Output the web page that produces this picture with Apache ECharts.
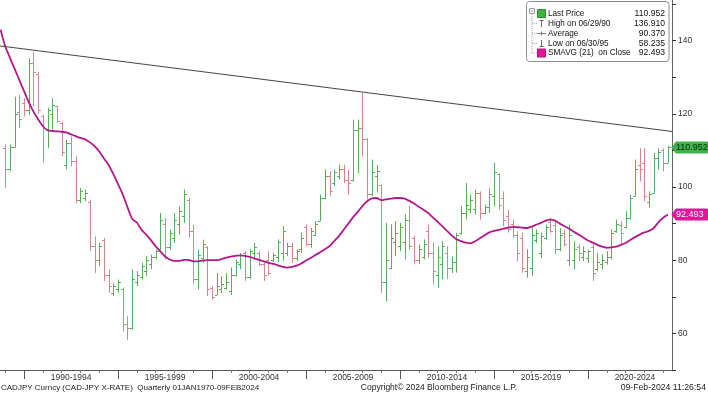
<!DOCTYPE html>
<html><head><meta charset="utf-8">
<script src="https://cdn.jsdelivr.net/npm/echarts@6/dist/echarts.min.js"></script>
<style>html,body{margin:0;padding:0;background:#fff}#c{width:708px;height:394px}</style>
</head><body><div id="c"></div><script>
// ---------- DATA ----------
// Quarterly OHLC bars, CADJPY, plotted at the quarter-end date; first bar = 1988 Q4
const firstQuarterEnd = 1989.0;
const openP = [110.7,104.8,111.0,120.5,123.0,121.0,134.0,131.0,119.5,115.5,120.0,122.0,117.5,106.0,112.0,107.0,96.5,97.0,96.0,84.0,
80.0,85.5,76.0,71.0,72.0,72.0,62.5,61.5,74.0,75.5,77.0,79.0,81.0,83.0,90.0,83.5,86.0,90.0,92.0,96.5,
88.0,75.0,80.5,83.5,72.5,70.5,72.0,72.5,71.5,76.0,79.0,82.0,75.5,82.0,82.0,79.0,80.0,80.0,81.0,82.0,
82.0,84.0,80.5,83.0,89.0,84.5,87.0,90.7,97.0,103.0,101.0,103.0,105.0,102.0,102.0,115.5,116.0,113.0,98.0,103.0,
100.5,74.0,78.0,85.0,84.0,85.0,91.0,86.0,80.0,81.0,88.0,82.0,76.0,79.0,82.0,78.0,79.5,87.5,93.0,94.0,
94.0,98.5,93.0,94.5,97.5,103.5,97.0,92.0,90.0,87.0,86.0,77.0,78.0,85.5,82.0,86.0,90.5,89.5,83.0,87.5,
80.0,80.0,83.5,81.0,80.5,83.5,77.5,79.0,79.5,81.0,88.0,89.5,89.0,91.5,97.5,106.0,106.5,96.0,98.5,108.0,
110.0,106.6];
const highP = [111.6,111.6,124.7,125.2,124.3,135.2,136.91,131.5,119.7,121.6,124.3,122.2,117.9,112.9,113.8,108.4,99.7,99.3,96.5,86.5,
84.7,86.1,77.5,73.8,74.7,72.5,64.7,77.5,77.0,79.3,81.1,81.5,82.9,92.9,91.5,88.4,92.9,94.7,99.3,97.0,
89.7,82.9,85.6,83.8,72.9,76.5,75.6,76.5,78.0,80.2,82.0,82.5,83.0,84.8,82.5,79.8,82.5,82.0,85.7,89.3,
84.8,84.8,83.0,87.5,89.8,88.8,90.7,97.9,104.8,104.3,104.8,106.1,106.1,104.8,118.4,118.4,125.7,113.4,107.5,106.0,
100.7,90.2,89.8,90.7,90.2,92.5,94.8,86.6,84.3,85.7,89.8,84.8,83.8,85.2,83.8,81.0,87.5,94.7,101.1,97.9,
99.3,98.8,95.2,99.7,106.6,103.8,98.8,93.8,91.1,87.9,87.5,83.0,89.3,88.4,87.5,89.7,91.6,90.6,88.8,88.4,
89.7,85.2,84.3,83.8,82.9,84.3,82.0,81.6,82.5,88.4,91.1,90.6,93.4,97.9,107.5,110.6,110.6,98.8,109.3,110.6,
110.6,111.3];
const lowP = [99.7,104.3,110.8,116.1,119.3,119.7,122.0,120.0,106.6,110.6,115.7,117.5,108.4,104.8,105.7,95.6,95.6,96.1,82.5,76.5,
78.4,74.3,71.1,70.2,71.1,60.5,58.235,61.0,72.9,74.7,75.6,77.5,80.2,82.9,80.2,82.9,84.7,87.0,90.2,86.1,
73.4,72.0,79.3,70.2,69.3,70.5,71.1,72.0,70.5,75.5,77.5,74.3,74.8,80.2,78.4,74.3,75.7,79.5,79.5,79.8,
81.1,79.3,79.8,82.0,83.8,83.4,86.6,90.7,96.6,97.5,100.2,102.0,101.1,97.9,101.5,103.8,108.4,96.6,97.5,98.5,
71.1,68.8,77.5,81.1,82.5,80.2,82.9,78.9,78.9,80.2,80.7,73.4,72.5,74.8,74.8,76.5,76.6,87.0,91.1,92.9,
92.5,91.1,92.5,92.9,94.7,93.8,89.3,87.5,86.1,79.7,76.6,75.2,75.7,84.7,80.6,85.6,87.5,81.6,82.5,83.8,
78.4,77.5,79.7,79.7,79.3,74.3,77.0,77.5,78.8,80.2,87.5,84.7,88.8,91.1,97.5,101.6,96.1,94.3,98.4,104.7,
104.3,106.6];
const closeP = [104.8,111.0,120.0,118.5,121.0,134.0,131.5,121.0,116.0,121.0,122.5,118.0,109.5,112.0,107.0,96.5,99.0,98.5,84.0,80.0,
84.0,76.0,73.0,73.0,74.0,62.5,61.5,75.0,76.0,78.5,80.0,81.0,82.5,91.0,83.5,87.5,91.0,93.5,98.0,88.0,
75.0,81.5,84.5,72.0,70.0,73.0,73.5,74.0,76.0,79.5,81.5,75.5,82.5,83.5,79.0,76.0,76.5,81.5,85.0,88.0,
84.0,80.5,82.5,86.0,84.5,88.0,90.0,97.0,103.0,99.0,104.0,105.0,102.0,101.0,115.5,116.0,113.0,98.0,104.0,104.5,
74.0,80.0,86.0,87.5,89.0,91.0,84.0,80.0,83.0,84.5,82.0,77.0,81.0,84.0,78.0,79.5,87.0,93.0,95.0,96.5,
98.5,93.0,94.5,98.0,104.0,95.0,91.0,88.5,87.0,82.0,78.0,81.0,87.0,87.5,86.5,89.0,88.0,83.0,87.0,84.5,
87.0,83.0,82.0,82.5,82.5,76.5,79.5,80.0,81.0,87.5,90.0,87.5,91.5,97.0,105.0,105.0,97.5,98.0,108.0,109.5,
106.5,110.952];
// SMAVG(21) on close, one value per quarter starting one quarter before the first bar
const smaStartOffset = -1;
const smaVals = [143.0,138.4,135.3,132.3,129.2,126.2,123.2,120.6,118.5,116.6,115.5,115.3,115.2,115.1,114.9,114.4,113.9,113.4,113.0,112.2,
111.2,109.7,107.8,106.0,103.5,100.8,98.0,94.5,91.3,90.3,88.3,87.0,85.5,83.8,82.4,81.0,80.2,79.8,79.8,80.1,
80.1,79.7,79.7,79.9,80.0,80.0,80.0,80.3,80.7,81.0,81.2,81.3,81.2,80.9,80.5,80.1,79.7,79.3,79.0,78.6,
78.2,78.0,78.2,78.5,79.1,79.9,80.6,81.4,82.2,83.0,83.8,85.2,86.6,88.3,90.0,91.7,93.2,94.8,96.1,96.9,
97.0,96.4,96.6,96.8,97.0,97.0,96.8,96.2,95.5,94.6,93.8,92.9,91.7,90.5,89.3,88.0,86.8,85.7,85.2,84.8,
84.6,85.2,86.0,86.8,87.6,88.0,88.3,88.6,88.9,89.1,89.0,88.9,88.8,89.2,89.7,90.2,90.8,91.1,90.8,90.0,
89.3,88.6,87.8,87.0,86.2,85.4,84.8,84.2,83.7,83.4,83.5,83.7,84.2,84.7,85.5,86.3,87.0,87.6,88.0,88.8,
90.4,91.6,92.493];
// Resistance trend line endpoints [year, value]
const trendLine = [[1988.72, 138.55], [2024.47, 115.18]];
// Axis ticks / labels
const periodStarts = [1990, 1995, 2000, 2005, 2010, 2015, 2020];
const periodMids = [1992.5, 1997.5, 2002.5, 2007.5, 2012.5, 2017.5, 2022.5];
const periodLabels = ['1990-1994','1995-1999','2000-2004','2005-2009','2010-2014','2015-2019','2020-2024'];
const yearTicks = [1989,1991,1992,1993,1994,1996,1997,1998,1999,2001,2002,2003,2004,2006,2007,2008,2009,2011,2012,2013,2014,2016,2017,2018,2019,2021,2022,2023,2024];
// Legend
const legendNames = ['Last Price','High on 06/29/90','Average','Low on 06/30/95','SMAVG (21)  on Close'];
const legendValues = ['110.952','136.910','90.370','58.235','92.493'];
const lastPrice = 110.952, lastSma = 92.493;
const footerLeft = 'CADJPY Curncy (CAD-JPY X-RATE)  Quarterly 01JAN1970-09FEB2024';
const footerMid = 'Copyright\u00A9 2024 Bloomberg Finance L.P.';
const footerRight = '09-Feb-2024 11:26:54';

// ---------- CHART ----------
const FONT = '"Liberation Sans", Arial, sans-serif';
const GREEN = '#58ad58', RED = '#d3868c', SMA_COLOR = '#b2188c';
const xMin = 1988.72, xMax = 2024.47;
const bars = openP.map((o, k) => [firstQuarterEnd + 0.25 * k, o, highP[k], lowP[k], closeP[k]]);
const smaData = smaVals.map((v, j) => [firstQuarterEnd + 0.25 * (j + smaStartOffset), v]);

const chart = echarts.init(document.getElementById('c'), null, {renderer: 'canvas'});
const option = {
  animation: false,
  grid: {left: 0, right: 36, top: 0, bottom: 24, containLabel: false},
  xAxis: [{
    type: 'value', min: xMin, max: xMax,
    axisLine: {show: true, lineStyle: {color: '#555', width: 1}},
    splitLine: {show: false},
    axisTick: {show: true, customValues: periodStarts, length: 9, lineStyle: {color: '#555'}},
    axisLabel: {show: true, customValues: periodMids, margin: 3, fontSize: 8.5, color: '#333', fontFamily: FONT,
      formatter: v => { const i = periodMids.findIndex(m => Math.abs(m - v) < 1e-6); return i >= 0 ? periodLabels[i] : ''; }}
  }, {
    type: 'value', min: xMin, max: xMax, position: 'bottom', gridIndex: 0,
    axisLine: {show: false}, splitLine: {show: false}, axisLabel: {show: false},
    axisTick: {show: true, customValues: yearTicks, length: 3, lineStyle: {color: '#777'}}
  }],
  yAxis: {
    type: 'value', position: 'right', min: 50, max: 151.1, interval: 10,
    axisLine: {show: true, lineStyle: {color: '#666'}},
    axisTick: {show: true, length: 4, lineStyle: {color: '#333'}},
    splitLine: {show: false},
    axisLabel: {margin: 6, fontSize: 8.5, color: '#333', fontFamily: FONT, showMaxLabel: false,
      formatter: v => (Math.abs(v % 20) < 1e-6 && v >= 60 && v <= 140) ? String(v) : ''}
  },
  series: [{
    type: 'custom', name: 'OHLC', xAxisIndex: 0, clip: true,
    encode: {x: 0, y: [1, 2, 3, 4]},
    data: bars,
    renderItem: (params, api) => {
      const x = api.value(0), o = api.value(1), h = api.value(2), l = api.value(3), c = api.value(4);
      const ph = api.coord([x, h]), pl = api.coord([x, l]), po = api.coord([x, o]), pc = api.coord([x, c]);
      const col = c >= o ? GREEN : RED;
      const px = Math.round(ph[0]) + 0.5;
      const st = {stroke: col, lineWidth: 1};
      return {type: 'group', children: [
        {type: 'line', shape: {x1: px, y1: ph[1], x2: px, y2: pl[1]}, style: st},
        {type: 'line', shape: {x1: px - 2.5, y1: Math.round(po[1]) + 0.5, x2: px, y2: Math.round(po[1]) + 0.5}, style: st},
        {type: 'line', shape: {x1: px, y1: Math.round(pc[1]) + 0.5, x2: px + 2.5, y2: Math.round(pc[1]) + 0.5}, style: st}
      ]};
    }
  }, {
    type: 'line', name: 'SMAVG', data: smaData, showSymbol: false, symbol: 'none',
    lineStyle: {color: SMA_COLOR, width: 1.8}, smooth: 0.2, z: 3
  }, {
    type: 'line', name: 'Trend', data: trendLine, showSymbol: false, symbol: 'none',
    lineStyle: {color: '#444', width: 1}, z: 4
  }]
};
chart.setOption(option);

// ---------- GRAPHICS (legend, price tags, footer) ----------
function txt(text, x, y, size, color, align, weight) {
  return {type: 'text', silent: true, z: 100, style: {text, x, y, fill: color || '#111',
    font: (weight || 'normal') + ' ' + size + 'px ' + FONT,
    textAlign: align || 'left', align: align || 'left', textVerticalAlign: 'middle', verticalAlign: 'middle'}};
}
function tag(value, fill, textColor) {
  const cy = Math.round(chart.convertToPixel({yAxisIndex: 0}, value)) + 0.5;
  const tip = 672, hh = 5.5;
  return [
    {type: 'polygon', silent: true, z: 100,
      shape: {points: [[tip, cy], [tip + 4, cy - hh], [707.5, cy - hh], [707.5, cy + hh], [tip + 4, cy + hh]]},
      style: {fill, stroke: fill, lineWidth: 1}},
    txt(value.toFixed(3), 676, cy + 0.5, 9, textColor)
  ];
}
const rowY = [13.3, 23.3, 33.3, 43.3, 53];
const g = [];
// legend box
g.push({type: 'rect', silent: true, z: 90, shape: {x: 526.5, y: 1.5, width: 142.5, height: 60, r: 3},
  style: {fill: '#ffffff', stroke: '#8c8c8c', lineWidth: 1}});
// tree connector
g.push({type: 'rect', silent: true, z: 95, shape: {x: 529.5, y: 8.5, width: 5, height: 5}, style: {fill: '#fff', stroke: '#9a9a9a', lineWidth: 1}});
g.push({type: 'line', silent: true, z: 95, shape: {x1: 530.5, y1: 11, x2: 533.5, y2: 11}, style: {stroke: '#9a9a9a', lineWidth: 1}});
g.push({type: 'line', silent: true, z: 95, shape: {x1: 532, y1: 14, x2: 532, y2: 53}, style: {stroke: '#aaa', lineWidth: 1, lineDash: [1, 1]}});
for (let i = 1; i < 5; i++) g.push({type: 'line', silent: true, z: 95, shape: {x1: 532, y1: rowY[i], x2: 537, y2: rowY[i]}, style: {stroke: '#aaa', lineWidth: 1, lineDash: [1, 1]}});
// icons
g.push({type: 'rect', silent: true, z: 96, shape: {x: 537.5, y: 9.5, width: 8, height: 8}, style: {fill: '#3cb43c', stroke: '#2c8f2c', lineWidth: 1}});
g.push({type: 'line', silent: true, z: 96, shape: {x1: 541.5, y1: 20, x2: 541.5, y2: 27}, style: {stroke: '#666', lineWidth: 1}});
g.push({type: 'line', silent: true, z: 96, shape: {x1: 539.5, y1: 20.5, x2: 543.5, y2: 20.5}, style: {stroke: '#666', lineWidth: 1}});
g.push({type: 'line', silent: true, z: 96, shape: {x1: 537.5, y1: 33.5, x2: 546, y2: 33.5}, style: {stroke: '#777', lineWidth: 1}});
g.push({type: 'line', silent: true, z: 96, shape: {x1: 541.5, y1: 31.5, x2: 541.5, y2: 35.5}, style: {stroke: '#777', lineWidth: 1}});
g.push({type: 'line', silent: true, z: 96, shape: {x1: 541.5, y1: 40, x2: 541.5, y2: 47}, style: {stroke: '#666', lineWidth: 1}});
g.push({type: 'line', silent: true, z: 96, shape: {x1: 539.5, y1: 46.5, x2: 543.5, y2: 46.5}, style: {stroke: '#666', lineWidth: 1}});
g.push({type: 'rect', silent: true, z: 96, shape: {x: 537.5, y: 49, width: 8, height: 8}, style: {fill: '#e0189c', stroke: '#b01079', lineWidth: 1}});
for (let i = 0; i < 5; i++) {
  g.push(txt(legendNames[i], 548, rowY[i], 8.2, '#111'));
  g.push(txt(legendValues[i], 665, rowY[i], 8.6, '#111', 'right'));
}
// price tags
g.push(...tag(lastPrice, '#3db449', '#0d2a0d'));
g.push(...tag(lastSma, '#e3159b', '#ffffff'));
// footer
g.push(txt(footerLeft, 1, 388, 8, '#222'));
g.push(txt(footerMid, 439, 388, 8.5, '#222', 'center'));
g.push(txt(footerRight, 706, 388, 8.7, '#222', 'right'));
chart.setOption({graphic: g});
</script></body></html>
